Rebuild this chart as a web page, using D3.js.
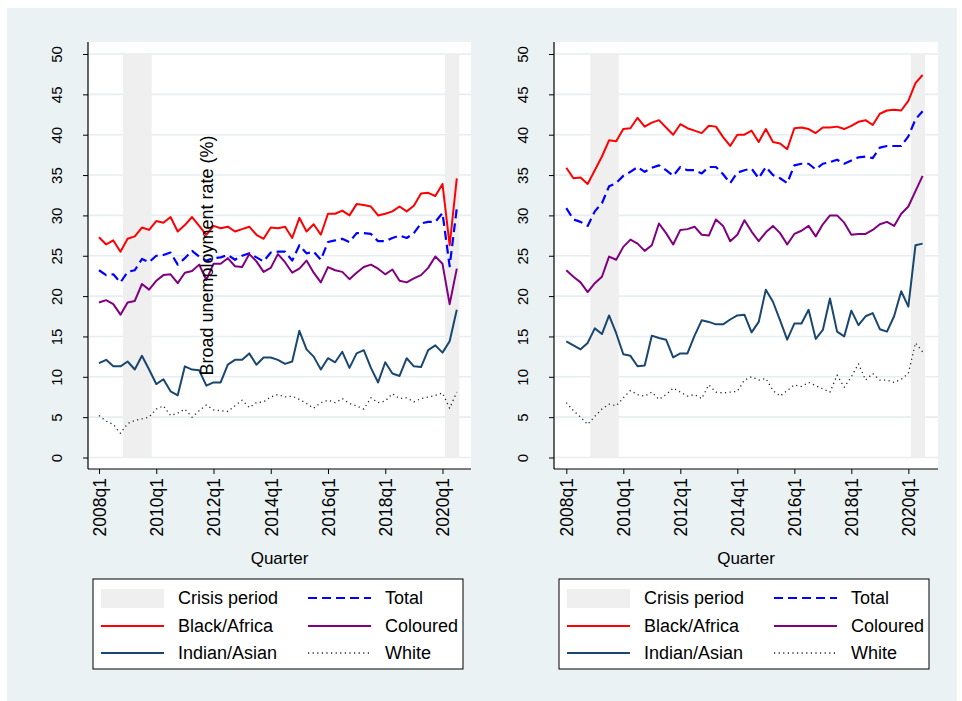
<!DOCTYPE html>
<html>
<head>
<meta charset="utf-8">
<script src="https://cdn.jsdelivr.net/npm/d3@7"></script>
<style>
  html, body { margin: 0; padding: 0; background: #ffffff; }
  svg { display: block; font-family: "Liberation Sans", Arial, Helvetica, sans-serif; }
</style>
</head>
<body>
<svg id="chart" width="962" height="701"></svg>
<script>
// Quarterly broad unemployment rate (%) by population group, 2008q1–2020q3
const quarters = [
  "2008q1","2008q2","2008q3","2008q4","2009q1","2009q2","2009q3","2009q4",
  "2010q1","2010q2","2010q3","2010q4","2011q1","2011q2","2011q3","2011q4",
  "2012q1","2012q2","2012q3","2012q4","2013q1","2013q2","2013q3","2013q4",
  "2014q1","2014q2","2014q3","2014q4","2015q1","2015q2","2015q3","2015q4",
  "2016q1","2016q2","2016q3","2016q4","2017q1","2017q2","2017q3","2017q4",
  "2018q1","2018q2","2018q3","2018q4","2019q1","2019q2","2019q3","2019q4",
  "2020q1","2020q2","2020q3"
];
const xTickLabels = ["2008q1","2010q1","2012q1","2014q1","2016q1","2018q1","2020q1"];
const yTickValues = [0, 5, 10, 15, 20, 25, 30, 35, 40, 45, 50];

// Crisis periods, as [start quarter, end quarter]
const crisisPeriods = [["2008q4", "2009q4"], ["2020q1", "2020q3"]];
const crisisTop = 50;

// Left panel
const leftTotal = [23.2,22.6,22.7,21.7,23.0,23.2,24.6,24.2,25.0,25.1,25.4,23.9,24.7,25.6,24.9,24.4,24.7,24.8,25.1,24.5,25.0,25.3,24.8,24.3,25.4,25.5,25.5,24.4,26.3,25.3,25.5,24.5,26.7,26.9,27.1,26.7,27.8,27.8,27.7,26.8,26.8,27.2,27.5,27.2,27.8,29.0,29.2,29.2,30.3,23.7,30.9];
const leftBlack = [27.3,26.4,26.9,25.5,27.1,27.4,28.5,28.2,29.3,29.1,29.8,28.0,28.8,29.8,28.7,27.6,28.7,28.4,28.6,28.0,28.3,28.6,27.6,27.1,28.5,28.4,28.6,27.2,29.7,28.0,28.9,27.6,30.2,30.2,30.6,30.0,31.4,31.3,31.1,30.0,30.2,30.5,31.1,30.5,31.2,32.7,32.8,32.4,33.9,26.3,34.6];
const leftColoured = [19.2,19.5,19.0,17.7,19.2,19.4,21.5,20.8,21.9,22.6,22.7,21.6,22.9,23.1,23.9,22.0,24.0,24.0,24.7,23.7,23.6,25.2,24.3,23.0,23.5,25.2,24.2,22.9,23.4,24.4,22.9,21.7,23.6,23.2,23.0,22.1,22.9,23.6,23.9,23.4,22.7,23.3,21.9,21.7,22.2,22.6,23.5,24.9,24.0,19.0,23.4];
const leftIndian = [11.7,12.1,11.3,11.3,11.9,10.9,12.6,10.9,9.1,9.7,8.2,7.7,11.3,10.9,10.8,8.9,9.3,9.3,11.5,12.1,12.1,12.9,11.5,12.4,12.4,12.1,11.6,11.9,15.7,13.4,12.5,10.9,12.3,11.8,13.1,11.1,12.9,13.3,11.1,9.3,11.8,10.4,10.1,12.3,11.3,11.2,13.3,13.9,13.0,14.4,18.3];
const leftWhite = [5.2,4.5,4.1,3.0,4.2,4.6,4.8,5.0,6.0,6.4,5.2,5.5,6.0,5.0,5.8,6.5,5.9,5.8,5.7,6.4,7.1,6.2,6.8,6.9,7.5,7.8,7.5,7.6,7.2,6.7,6.1,6.8,7.1,6.8,7.3,6.7,6.4,6.0,7.4,6.8,7.0,7.9,7.3,7.4,6.9,7.3,7.5,7.7,8.0,6.1,8.1];

// Right panel
const rightTotal = [30.9,29.5,29.2,28.7,30.5,31.5,33.6,34.0,34.9,35.4,36.0,35.4,35.9,36.2,35.6,34.9,36.0,35.6,35.6,35.2,36.0,36.0,35.1,34.0,35.3,35.6,35.8,34.6,36.0,35.0,34.6,34.0,36.2,36.4,36.4,35.7,36.4,36.6,36.9,36.4,36.8,37.2,37.3,37.1,38.4,38.6,38.6,38.6,39.8,41.9,42.9];
const rightBlack = [35.9,34.6,34.7,33.9,35.6,37.3,39.3,39.2,40.7,40.8,42.1,41.0,41.5,41.8,40.9,40.0,41.3,40.8,40.5,40.2,41.1,41.0,39.7,38.6,40.0,40.0,40.5,39.1,40.7,39.1,38.9,38.2,40.8,40.9,40.7,40.2,40.9,40.9,41.0,40.7,41.1,41.6,41.8,41.2,42.6,43.0,43.1,43.0,44.2,46.4,47.4];
const rightColoured = [23.2,22.4,21.7,20.5,21.6,22.4,24.9,24.5,26.1,27.0,26.5,25.6,26.3,29.0,27.8,26.4,28.2,28.3,28.6,27.6,27.5,29.5,28.7,26.8,27.6,29.4,28.0,26.8,27.9,28.7,27.8,26.4,27.7,28.1,28.7,27.4,28.9,30.0,30.0,29.1,27.6,27.7,27.7,28.2,28.9,29.2,28.7,30.2,31.1,33.0,34.9];
const rightIndian = [14.4,13.9,13.4,14.2,16.0,15.3,17.6,15.4,12.8,12.6,11.3,11.4,15.1,14.8,14.6,12.4,12.9,12.9,15.1,17.0,16.8,16.5,16.5,17.1,17.6,17.7,15.5,16.8,20.8,19.3,17.0,14.6,16.6,16.6,18.3,14.7,15.8,19.7,15.6,15.0,18.2,16.4,17.5,17.9,15.9,15.6,17.5,20.6,18.7,26.3,26.5];
const rightWhite = [6.8,5.8,5.0,4.1,5.1,6.0,6.6,6.4,7.4,8.3,7.8,7.6,8.1,7.2,7.8,8.6,8.1,7.6,7.8,7.3,9.0,8.1,8.0,8.1,8.2,9.6,10.0,9.6,9.8,8.3,7.6,8.3,9.0,8.8,9.3,8.9,8.5,8.1,10.2,8.7,10.0,11.6,9.6,10.4,9.6,9.6,9.3,9.7,10.4,14.2,13.1];

const seriesNames = ["Total", "Black/Africa", "Coloured", "Indian/Asian", "White"];
const legendLabels = ["Crisis period", "Total", "Black/Africa", "Coloured", "Indian/Asian", "White"];

// Line styles per series
const styles = {
  "Total":        { color: "#0000ff", width: 2.2, dash: "9,5" },
  "Black/Africa": { color: "#ff0000", width: 2.0, dash: null },
  "Coloured":     { color: "#800080", width: 2.0, dash: null },
  "Indian/Asian": { color: "#1a476f", width: 2.0, dash: null },
  "White":        { color: "#222222", width: 1.3, dash: "1.2,3.4" }
};
const crisisFill = "#efefef";
const gridColor = "#e6eef1";
const bgColor = "#eaf2f3";

const panels = [
  { left: 88, right: 471, xStart: 99, xEnd: 456.8, showYTitle: true,
    data: [leftTotal, leftBlack, leftColoured, leftIndian, leftWhite] },
  { left: 554, right: 938, xStart: 566.3, xEnd: 922.6, showYTitle: false,
    data: [rightTotal, rightBlack, rightColoured, rightIndian, rightWhite] }
];

const svg = d3.select("#chart");
svg.append("rect").attr("x", 7).attr("y", 8).attr("width", 950).attr("height", 693)
  .attr("fill", bgColor);

const plotTop = 42, plotBottom = 469;
const y = d3.scaleLinear().domain([0, 50]).range([457.5, 54]);
// shading runs from one month into the start quarter to one month into the end quarter
const monthShift = 0.36;

panels.forEach(p => {
  const x = d3.scaleLinear().domain([0, quarters.length - 1]).range([p.xStart, p.xEnd]);
  const qi = q => quarters.indexOf(q);
  const g = svg.append("g");

  // plot region
  g.append("rect").attr("x", p.left).attr("y", plotTop)
    .attr("width", p.right - p.left).attr("height", plotBottom - plotTop)
    .attr("fill", "#ffffff");

  // horizontal grid
  g.append("g").selectAll("line").data(yTickValues).join("line")
    .attr("x1", p.left + 1).attr("x2", p.right)
    .attr("y1", d => y(d)).attr("y2", d => y(d))
    .attr("stroke", gridColor).attr("stroke-width", 1.6);

  // crisis shading
  g.append("g").selectAll("rect").data(crisisPeriods).join("rect")
    .attr("x", d => x(qi(d[0]) + monthShift))
    .attr("width", d => x(qi(d[1]) + monthShift) - x(qi(d[0]) + monthShift))
    .attr("y", y(crisisTop)).attr("height", y(0) - y(crisisTop))
    .attr("fill", crisisFill);

  // series lines
  const line = d3.line().x((d, i) => x(i)).y(d => y(d));
  seriesNames.forEach((name, k) => {
    const st = styles[name];
    g.append("path").datum(p.data[k])
      .attr("d", line)
      .attr("fill", "none")
      .attr("stroke", st.color)
      .attr("stroke-width", st.width)
      .attr("stroke-linejoin", "round")
      .attr("stroke-dasharray", st.dash);
  });

  // y axis
  const yAxis = g.append("g").attr("transform", `translate(${p.left},0)`)
    .call(d3.axisLeft(y).tickValues(yTickValues).tickSize(5).tickSizeOuter(0));
  yAxis.select(".domain").attr("d", `M0,${plotTop}V${plotBottom}`).attr("stroke", "#000").attr("stroke-width", 1.2);
  yAxis.selectAll(".tick line").attr("stroke", "#000");
  yAxis.selectAll(".tick text")
    .attr("transform", "rotate(-90)")
    .attr("x", 0).attr("y", -26).attr("dy", 0)
    .attr("text-anchor", "middle")
    .attr("font-size", 15).attr("fill", "#000")
    .attr("font-family", "Liberation Sans, Arial, sans-serif");

  // x axis
  const xAxis = g.append("g").attr("transform", `translate(0,${plotBottom})`)
    .call(d3.axisBottom(x).tickValues(xTickLabels.map(qi)).tickFormat(i => quarters[i])
      .tickSize(5).tickSizeOuter(0));
  xAxis.select(".domain").attr("d", `M${p.left},0H${p.right}`).attr("stroke", "#000").attr("stroke-width", 1.2);
  xAxis.selectAll(".tick line").attr("stroke", "#000");
  xAxis.selectAll(".tick text")
    .attr("transform", "rotate(-90)")
    .attr("x", -9).attr("y", 0).attr("dy", "0.36em")
    .attr("text-anchor", "end")
    .attr("font-size", 17.5).attr("fill", "#000")
    .attr("font-family", "Liberation Sans, Arial, sans-serif");

  // x axis title
  g.append("text").attr("x", (p.left + p.right) / 2).attr("y", 564)
    .attr("text-anchor", "middle").attr("font-size", 17).text("Quarter");

  // legend
  const lg = g.append("g").attr("transform", `translate(${p.left + 5},579)`);
  lg.append("rect").attr("width", 370).attr("height", 90)
    .attr("fill", "#ffffff").attr("stroke", "#000").attr("stroke-width", 1);
  const rowY = [19, 47, 74];
  legendLabels.forEach((lab, j) => {
    const col = j % 2, row = Math.floor(j / 2);
    const kx = col === 0 ? 8 : 215;
    const tx = col === 0 ? 85 : 292;
    const cy = rowY[row];
    if (lab === "Crisis period") {
      lg.append("rect").attr("x", kx).attr("y", cy - 9).attr("width", 63).attr("height", 19)
        .attr("fill", crisisFill);
    } else {
      const st = styles[lab];
      lg.append("line").attr("x1", kx).attr("x2", kx + 63).attr("y1", cy).attr("y2", cy)
        .attr("stroke", st.color).attr("stroke-width", st.width)
        .attr("stroke-dasharray", st.dash);
    }
    lg.append("text").attr("x", tx).attr("y", cy).attr("dy", "0.36em")
      .attr("font-size", 18).attr("fill", "#000").text(lab);
  });

  // y axis title
  if (p.showYTitle) {
    g.append("text")
      .attr("transform", `translate(213,${(plotTop + plotBottom) / 2}) rotate(-90)`)
      .attr("text-anchor", "middle").attr("font-size", 18).attr("fill", "#000")
      .text("Broad unemployment rate (%)");
  }
});
</script>
</body>
</html>
